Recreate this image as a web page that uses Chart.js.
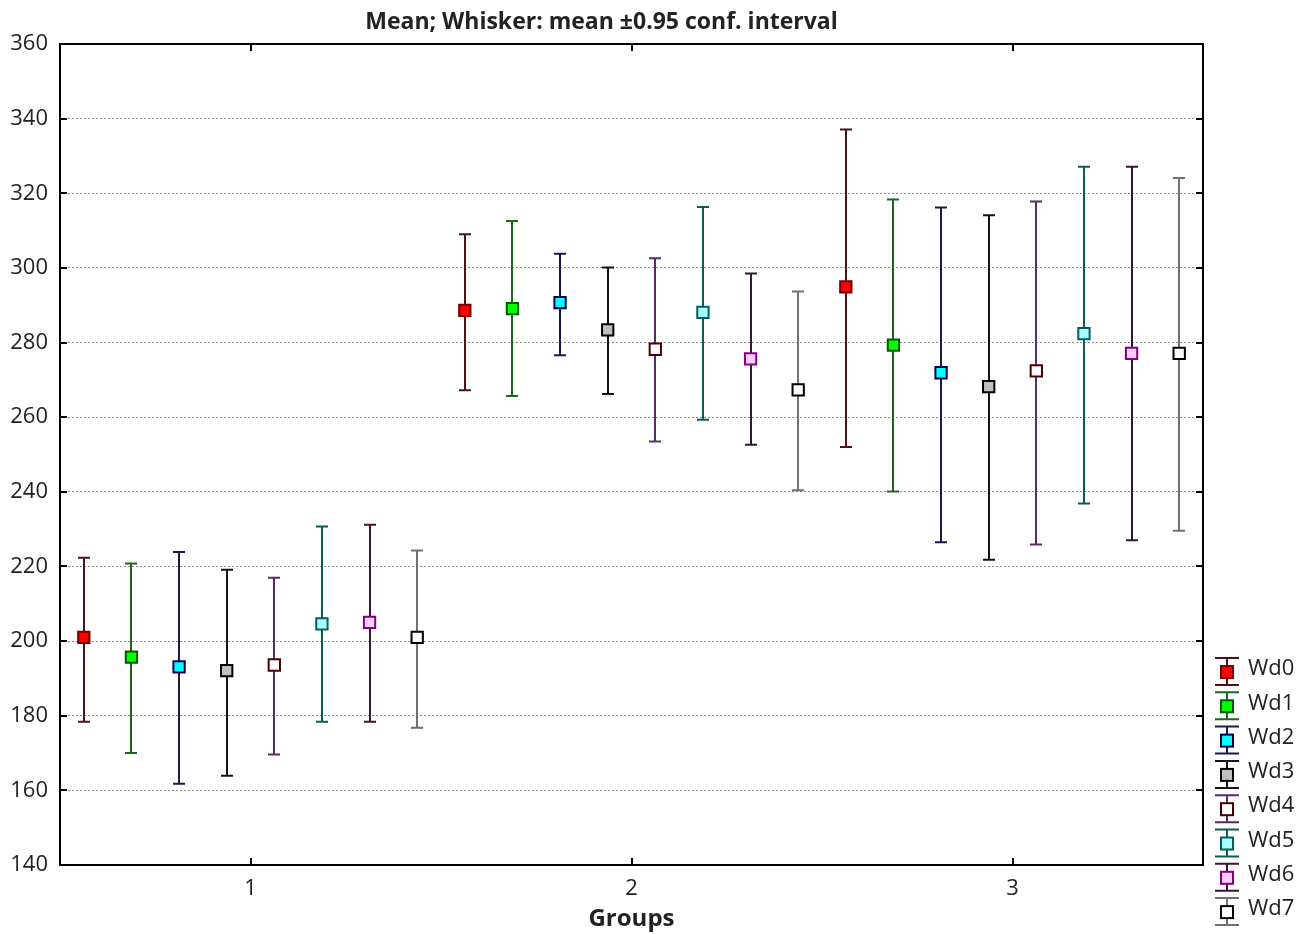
<!DOCTYPE html>
<html>
<head>
<meta charset="utf-8">
<script src="https://cdn.jsdelivr.net/npm/chart.js@4.4.0/dist/chart.umd.min.js"></script>
<style>
  html, body { margin: 0; padding: 0; background: #fff; }
  #wrap { width: 1309px; height: 934px; }
</style>
</head>
<body>
<div id="wrap"><canvas id="means-chart"></canvas></div>
<script>
// groups on the x axis
var categories = ["1", "2", "3"];
var seriesNames = ["Wd0", "Wd1", "Wd2", "Wd3", "Wd4", "Wd5", "Wd6", "Wd7"];

// mean per series, one value per group
var means = [
    [201.0, 288.6, 294.9],
    [195.7, 289.1, 279.3],
    [193.1, 290.7, 271.9],
    [192.1, 283.4, 268.2],
    [193.6, 278.2, 272.4],
    [204.6, 288.1, 282.4],
    [205.0, 275.6, 277.1],
    [201.0, 267.3, 277.1]
];
// lower end of 0.95 conf. interval
var lower = [
    [178.4, 267.2, 252.0],
    [170.0, 265.7, 240.1],
    [161.8, 276.6, 226.5],
    [163.9, 266.2, 221.8],
    [169.6, 253.5, 225.9],
    [178.4, 259.3, 236.9],
    [178.4, 252.6, 227.0],
    [176.8, 240.4, 229.6]
];
// upper end of 0.95 conf. interval
var upper = [
    [222.3, 309.0, 337.1],
    [220.8, 312.6, 318.3],
    [223.9, 303.8, 316.2],
    [219.1, 300.1, 314.1],
    [217.0, 302.6, 317.8],
    [230.7, 316.3, 327.1],
    [231.2, 298.5, 327.1],
    [224.3, 293.7, 324.1]
];
var yTicks = [140, 160, 180, 200, 220, 240, 260, 280, 300, 320, 340, 360];

var fillColors = ["#ff0000", "#00ff00", "#00ffff", "#c0c0c0", "#ffffff", "#a8ffff", "#ffccff", "#ffffff"];
var edgeColors = ["#7a0000", "#005a00", "#000050", "#000000", "#4a0000", "#006060", "#800080", "#000000"];
var whiskerColors = ["#4a1414", "#1e661e", "#1a1a4a", "#141414", "#5a2a6a", "#0a5a5a", "#3a1434", "#707070"];

var textColor = "#222";
var fontFam = "'Open Sans', Lato, sans-serif";

var datasets = seriesNames.map(function (name, i) {
    return {
        label: name,
        data: categories.map(function (c, j) {
            return { x: j + 1 + (i - 3.5) / 8, y: means[i][j], lo: lower[i][j], hi: upper[i][j] };
        }),
        pointStyle: "rect",
        pointRadius: 8,
        pointHoverRadius: 8,
        borderWidth: 2,
        backgroundColor: fillColors[i],
        borderColor: edgeColors[i],
        whiskerColor: whiskerColors[i],
        showLine: false
    };
});

// whiskers under the markers
var whiskers = {
    id: "whiskers",
    beforeDatasetsDraw: function (chart) {
        var ctx = chart.ctx, xs = chart.scales.x, ys = chart.scales.y;
        ctx.save();
        chart.data.datasets.forEach(function (ds) {
            ctx.strokeStyle = ds.whiskerColor;
            ctx.lineWidth = 2;
            ds.data.forEach(function (p) {
                var px = Math.round(xs.getPixelForValue(p.x));
                var top = ys.getPixelForValue(p.hi), bot = ys.getPixelForValue(p.lo);
                ctx.beginPath();
                ctx.moveTo(px, top); ctx.lineTo(px, bot);
                ctx.moveTo(px - 6, top); ctx.lineTo(px + 6, top);
                ctx.moveTo(px - 6, bot); ctx.lineTo(px + 6, bot);
                ctx.stroke();
            });
        });
        ctx.restore();
    }
};

// frame, inward ticks and legend
var frame = {
    id: "frame",
    afterDraw: function (chart) {
        var ctx = chart.ctx, a = chart.chartArea, xs = chart.scales.x, ys = chart.scales.y;
        ctx.save();
        ctx.strokeStyle = "#000";
        ctx.lineWidth = 2;
        ctx.strokeRect(a.left, a.top, a.right - a.left, a.bottom - a.top);
        ctx.beginPath();
        ys.ticks.forEach(function (t) {
            var py = Math.round(ys.getPixelForValue(t.value));
            ctx.moveTo(a.left, py); ctx.lineTo(a.left + 7, py);
            ctx.moveTo(a.right, py); ctx.lineTo(a.right - 7, py);
        });
        xs.ticks.forEach(function (t) {
            var px = Math.round(xs.getPixelForValue(t.value));
            ctx.moveTo(px, a.bottom); ctx.lineTo(px, a.bottom - 7);
            ctx.moveTo(px, a.top); ctx.lineTo(px, a.top + 7);
        });
        ctx.stroke();

        // legend
        var lx = a.right + 24;
        chart.data.datasets.forEach(function (ds, i) {
            var ly = 672 + i * 34.3;
            ctx.strokeStyle = ds.whiskerColor;
            ctx.lineWidth = 2;
            ctx.beginPath();
            ctx.moveTo(lx, ly - 14); ctx.lineTo(lx, ly + 13);
            ctx.moveTo(lx - 12, ly - 14); ctx.lineTo(lx + 12, ly - 14);
            ctx.moveTo(lx - 12, ly + 13); ctx.lineTo(lx + 12, ly + 13);
            ctx.stroke();
            ctx.fillStyle = ds.backgroundColor;
            ctx.fillRect(lx - 6, ly - 6, 12, 12);
            ctx.strokeStyle = ds.borderColor;
            ctx.strokeRect(lx - 6, ly - 6, 12, 12);
            ctx.fillStyle = textColor;
            ctx.font = "22px " + fontFam;
            ctx.textBaseline = "middle";
            ctx.textAlign = "left";
            ctx.fillText(ds.label, lx + 21, ly - 3);
        });
        ctx.restore();
    }
};

var ctx = document.getElementById("means-chart");
var chart = new Chart(ctx, {
    type: "scatter",
    data: { datasets: datasets },
    plugins: [whiskers, frame],
    options: {
        responsive: true,
        maintainAspectRatio: false,
        animation: false,
        events: [],
        layout: { padding: { left: 0, right: 106, top: 0, bottom: 0 } },
        plugins: {
            legend: { display: false },
            tooltip: { enabled: false },
            title: {
                display: true,
                text: "Mean; Whisker: mean \u00b10.95 conf. interval",
                color: textColor,
                font: { family: fontFam, size: 23, weight: "bold" },
                padding: { top: 9, bottom: 7.4 }
            }
        },
        scales: {
            x: {
                type: "linear",
                min: 0.5,
                max: 3.5,
                afterBuildTicks: function (s) {
                    s.ticks = categories.map(function (c, j) { return { value: j + 1 }; });
                },
                afterFit: function (s) { s.height = 69; },
                grid: { display: false, drawTicks: false },
                border: { display: false },
                ticks: {
                    color: textColor,
                    font: { family: fontFam, size: 22 },
                    padding: 11,
                    maxRotation: 0,
                    callback: function (v) { return categories[v - 1]; }
                },
                title: {
                    display: true,
                    text: "Groups",
                    color: textColor,
                    font: { family: fontFam, size: 24, weight: "bold" },
                    padding: { top: 0, bottom: 0 }
                }
            },
            y: {
                min: 140,
                max: 360,
                afterBuildTicks: function (s) {
                    s.ticks = yTicks.map(function (v) { return { value: v }; });
                },
                afterFit: function (s) { s.width = 60; },
                grid: { color: "#8a8a8a", lineWidth: 1, drawTicks: false },
                border: { display: false, dash: [2, 2] },
                ticks: {
                    color: textColor,
                    font: { family: fontFam, size: 22 },
                    padding: 12
                }
            }
        }
    }
});
</script>
</body>
</html>
